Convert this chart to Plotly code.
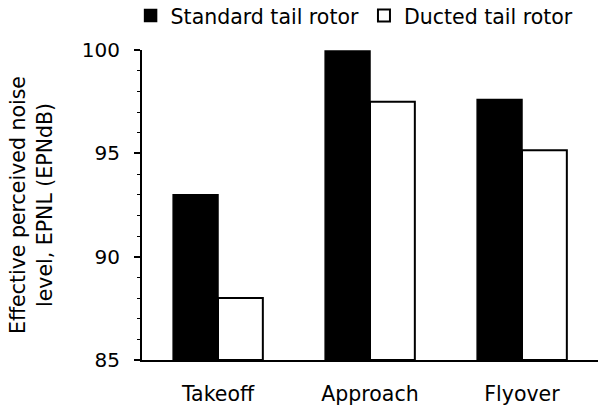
import plotly.graph_objects as go

categories = ["Takeoff", "Approach", "Flyover"]
standard = [93.0, 99.95, 97.6]
ducted = [88.0, 97.5, 95.15]
y_ticks = [85, 90, 95, 100]

FONT = "DejaVu Sans, Liberation Sans, Arial, sans-serif"

fig = go.Figure()
fig.add_trace(go.Bar(
    x=categories, y=[v - 85 for v in standard], base=85,
    name="Standard tail rotor",
    marker=dict(color="black", line=dict(color="black", width=1.5)),
))
fig.add_trace(go.Bar(
    x=categories, y=[v - 85 for v in ducted], base=85,
    name="Ducted tail rotor",
    marker=dict(color="white", line=dict(color="black", width=2)),
))

fig.update_layout(
    width=599, height=415,
    margin=dict(l=142, r=1, t=50, b=55),
    paper_bgcolor="white", plot_bgcolor="white",
    barmode="group", bargap=0.41, bargroupgap=0,
    font=dict(family=FONT, size=20, color="black"),
    showlegend=True,
    legend=dict(
        orientation="h", xanchor="left", yanchor="middle",
        x=0.218, y=0.962, xref="container", yref="container",
        font=dict(size=20.5), itemwidth=30, tracegroupgap=0,
        bgcolor="rgba(0,0,0,0)",
    ),
    xaxis=dict(
        showline=True, linecolor="black", linewidth=2,
        ticks="", ticklabelstandoff=14,
        showgrid=False, zeroline=False,
        tickfont=dict(size=20.5), range=[-0.5, 2.5],
    ),
    yaxis=dict(
        range=[85, 100], tickvals=y_ticks,
        showline=True, linecolor="black", linewidth=2,
        ticks="outside", ticklen=6, tickwidth=1.5, tickcolor="black",
        ticklabelstandoff=10,
        minor=dict(dtick=1, ticks="outside", ticklen=3, tickwidth=1, tickcolor="black"),
        showgrid=False, zeroline=False,
        tickfont=dict(size=20),
        title=dict(text="Effective perceived noise<br>level, EPNL (EPNdB)",
                   font=dict(size=20.5), standoff=24),
    ),
)

fig.write_html("out.html")
